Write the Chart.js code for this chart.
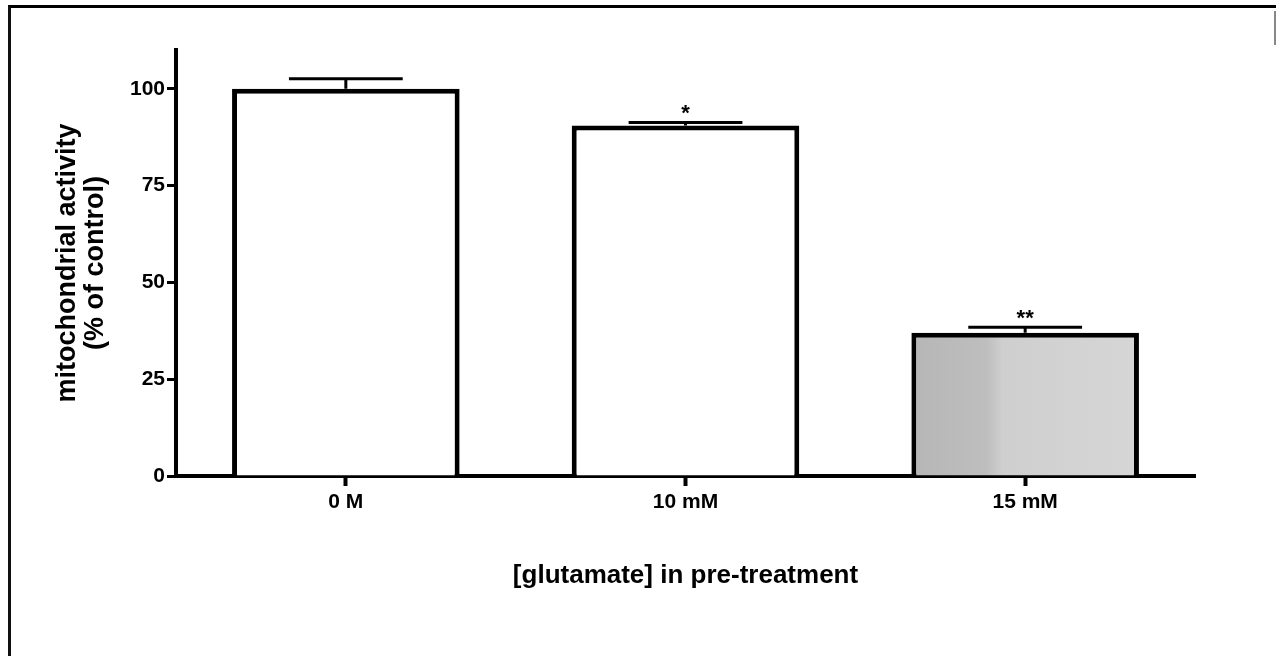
<!DOCTYPE html>
<html lang="en">
<head>
  <meta charset="UTF-8" />
  <title>Mitochondrial activity after glutamate pre-treatment</title>
  <script src="https://cdn.jsdelivr.net/npm/chart.js"></script>
  <style>
    html, body { margin: 0; padding: 0; background: #fff; }
    .wrap { position: relative; width: 1276px; height: 656px; overflow: hidden; }
    .frame {
      position: absolute; left: 8px; top: 5px; right: -10px; bottom: -10px;
      border-top: 3px solid #000; border-left: 3px solid #111;
      pointer-events: none;
    }
    .edge { position: absolute; left: 1274px; top: 11px; width: 2px; height: 34px; background: #888; }
    canvas { position: absolute; left: 0; top: 0; }
  </style>
</head>
<body>
  <div class="wrap">
    <canvas id="chart" width="1276" height="656"></canvas>
    <div class="frame"></div>
    <div class="edge"></div>
  </div>

  <script>
    // values
    const categories = ['0 M', '10 mM', '15 mM'];
    const activity = [100, 90.5, 37];
    const sem = [2.6, 0.8, 1.4];
    const marks = ['', '*', '**'];
    const yTicks = [0, 25, 50, 75, 100];

    const font = "'Liberation Sans', Arial, sans-serif";

    // gray fill for the last bar, darker on the left like the scan
    function barFill(context) {
      if (context.dataIndex !== 2) return '#ffffff';
      const chart = context.chart;
      const x = chart.scales.x;
      if (!x || x.left === undefined) return '#c4c4c4';
      const cx = x.getPixelForValue(2);
      const half = x.width / 3 * 0.67 / 2;
      const g = chart.ctx.createLinearGradient(cx - half, 0, cx + half, 0);
      g.addColorStop(0, '#b6b6b6');
      g.addColorStop(0.33, '#bebebe');
      g.addColorStop(0.4, '#cfcfcf');
      g.addColorStop(1, '#d6d6d6');
      return g;
    }

    const errorBars = {
      id: 'errorBars',
      afterDatasetsDraw(chart) {
        const ctx = chart.ctx;
        const x = chart.scales.x, y = chart.scales.y;
        const capHalf = x.width / 3 * 0.67 / 4;
        ctx.save();
        ctx.strokeStyle = '#000';
        ctx.fillStyle = '#000';
        ctx.lineWidth = 3;
        activity.forEach((v, i) => {
          const cx = x.getPixelForValue(i);
          const top = y.getPixelForValue(v);
          const hi = y.getPixelForValue(v + sem[i]);
          ctx.beginPath();
          ctx.moveTo(cx, top);
          ctx.lineTo(cx, hi);
          ctx.moveTo(cx - capHalf, hi);
          ctx.lineTo(cx + capHalf, hi);
          ctx.stroke();
          if (marks[i]) {
            ctx.font = 'bold 22px ' + font;
            ctx.textAlign = 'center';
            ctx.textBaseline = 'middle';
            ctx.fillText(marks[i], cx, hi - 8);
          }
        });
        ctx.restore();
      }
    };

    new Chart(document.getElementById('chart'), {
      type: 'bar',
      data: {
        labels: categories,
        datasets: [{
          data: activity,
          backgroundColor: barFill,
          borderColor: '#000',
          borderWidth: 5,
          borderSkipped: 'bottom',
          barPercentage: 0.67,
          categoryPercentage: 1
        }]
      },
      options: {
        responsive: false,
        animation: false,
        layout: { padding: { top: 50, right: 81, left: 0, bottom: 0 } },
        plugins: { legend: { display: false }, tooltip: { enabled: false } },
        scales: {
          x: {
            afterFit(scale) { scale.height = 180; },
            grid: { offset: false, drawOnChartArea: false, drawTicks: true, tickLength: 10, tickWidth: 4, tickColor: '#000' },
            border: { display: true, color: '#000', width: 4 },
            ticks: { color: '#000', padding: 4, font: { family: font, size: 21, weight: 'bold' } },
            title: {
              display: true,
              text: '[glutamate] in pre-treatment',
              color: '#000',
              font: { family: font, size: 26, weight: 'bold', lineHeight: '28px' },
              padding: { top: 0, bottom: 66 }
            }
          },
          y: {
            min: 0,
            max: 110,
            afterFit(scale) { scale.width = 176; },
            afterBuildTicks(scale) { scale.ticks = yTicks.map(v => ({ value: v })); },
            grid: { drawOnChartArea: false, drawTicks: true, tickLength: 9, tickWidth: 3, tickColor: '#000' },
            border: { display: true, color: '#000', width: 4 },
            ticks: { color: '#000', padding: 2, font: { family: font, size: 21, weight: 'bold' } },
            title: {
              display: true,
              text: ['mitochondrial activity', '(% of control)'],
              color: '#000',
              font: { family: font, size: 27, weight: 'bold', lineHeight: '28px' },
              padding: { top: 54, bottom: 0 }
            }
          }
        }
      },
      plugins: [errorBars]
    });
  </script>
</body>
</html>
